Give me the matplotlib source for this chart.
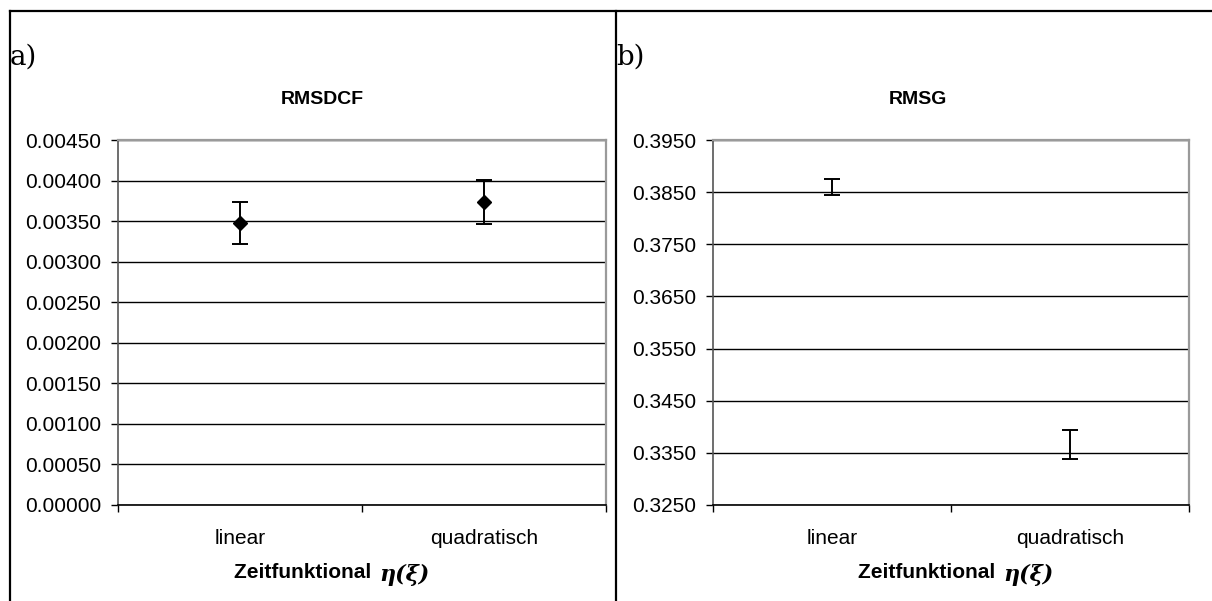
import numpy as np
import matplotlib
matplotlib.use('Agg')
from matplotlib import pyplot as plt
from matplotlib.lines import Line2D
from matplotlib.ticker import FixedLocator, FormatStrFormatter

categories = ['linear', 'quadratisch']

# a) RMSDCF
rmsdcf_mean = [0.003475, 0.003740]
rmsdcf_err = [0.000255, 0.000270]
rmsdcf_ticks = [0.0, 0.0005, 0.001, 0.0015, 0.002, 0.0025, 0.003, 0.0035, 0.004, 0.0045]

# b) RMSG
rmsg_mean = [0.3860, 0.3366]
rmsg_err = [0.0016, 0.0027]
rmsg_ticks = [0.325, 0.335, 0.345, 0.355, 0.365, 0.375, 0.385, 0.395]

W, H = 1212, 601
fig = plt.figure(figsize=(W / 100, H / 100), dpi=100)
fig.patch.set_facecolor('white')

def px(x, y):
    return x / W, 1 - y / H

# outer frame lines
for xs, ys in [((10, W), (11, 11)), ((10, 10), (11, H)), ((616, 616), (11, H))]:
    fig.add_artist(Line2D([x / W for x in xs], [1 - y / H for y in ys],
                          color='black', lw=1.6, transform=fig.transFigure))

fig.text(*px(10, 57), 'a)', fontsize=20, family='DejaVu Serif', va='center', ha='left')
fig.text(*px(616, 57), 'b)', fontsize=20, family='DejaVu Serif', va='center', ha='left')

def make_panel(left, right, title, title_x, mean, err, ticks, fmt, marker, xlab_split):
    ax = fig.add_axes([left / W, 1 - 505 / H, (right - left) / W, (505 - 140) / H])
    x = np.arange(len(categories))
    ax.errorbar(x, mean, yerr=err, fmt=marker, color='black', ms=7.5, ecolor='black',
                elinewidth=1.4, capsize=5.5, capthick=1.4, zorder=3)
    ax.set_xlim(-0.5, 1.5)
    ax.set_ylim(ticks[0], ticks[-1])
    ax.yaxis.set_major_locator(FixedLocator(ticks))
    ax.yaxis.set_major_formatter(FormatStrFormatter(fmt))
    ax.grid(axis='y', color='black', lw=1.0)
    ax.set_axisbelow(True)
    ax.set_xticks(x)
    ax.set_xticklabels(categories)
    ax.set_xticks([-0.5, 0.5, 1.5], minor=True)
    ax.tick_params(axis='x', which='major', length=0, pad=17, labelsize=15)
    ax.tick_params(axis='x', which='minor', length=5, width=1, color='black')
    ax.tick_params(axis='y', length=5, width=1, pad=7, labelsize=15)
    for lab in ax.get_xticklabels() + ax.get_yticklabels():
        lab.set_family('Liberation Sans')
    for s in ['top', 'right']:
        ax.spines[s].set_color('#9a9a9a')
        ax.spines[s].set_linewidth(1.6)
    ax.spines['left'].set_color('#555555')
    ax.spines['left'].set_linewidth(1.2)
    ax.spines['bottom'].set_color('black')
    ax.spines['bottom'].set_linewidth(1.2)

    fig.text(*px(title_x, 100), title, fontsize=14, fontweight='bold',
             family='Liberation Sans', ha='center', va='center')
    fig.text(*px(xlab_split, 573), 'Zeitfunktional ', fontsize=15, fontweight='bold',
             family='Liberation Sans', ha='right', va='center')
    fig.text(*px(xlab_split + 2, 575), 'η(ξ)', fontsize=16, fontweight='bold', style='italic',
             family='DejaVu Serif', ha='left', va='center')
    return ax

make_panel(118, 606, 'RMSDCF', 322, rmsdcf_mean, rmsdcf_err, rmsdcf_ticks, '%.5f', 'D', 377)
make_panel(713, 1189, 'RMSG', 918, rmsg_mean, rmsg_err, rmsg_ticks, '%.4f', 'none', 1001)

fig.savefig('out.png', dpi=100)
